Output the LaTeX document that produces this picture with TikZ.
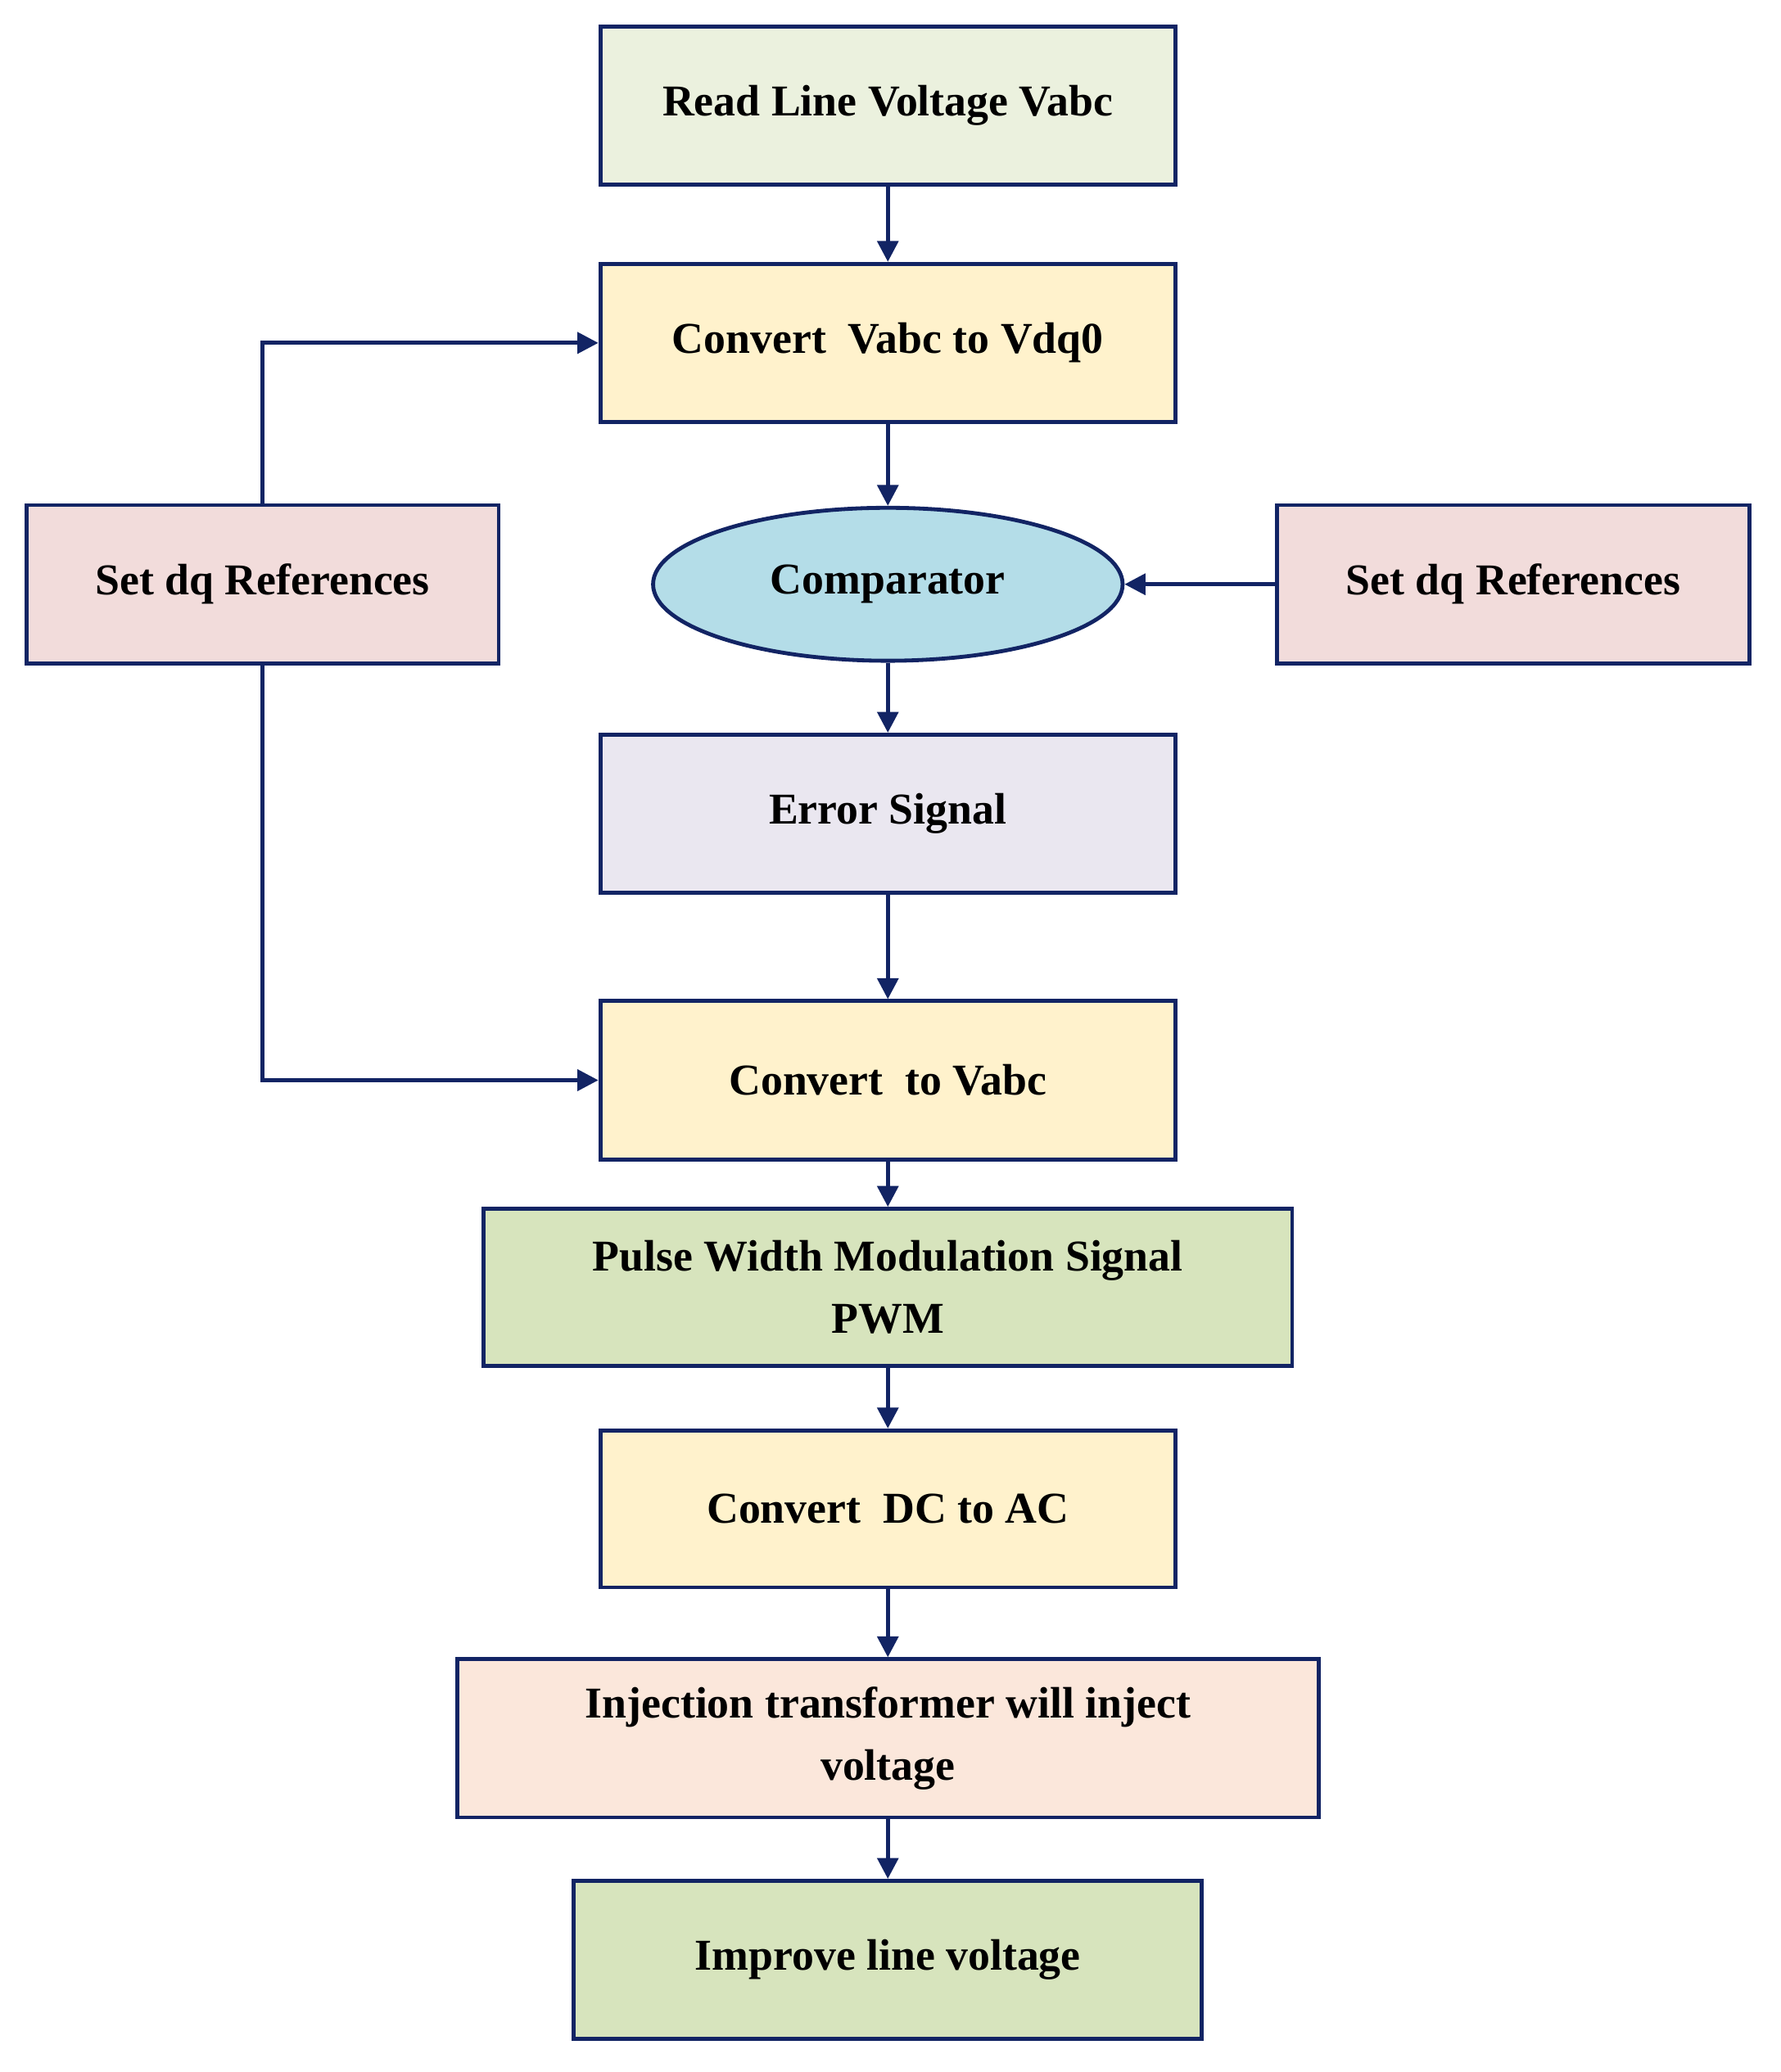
\documentclass[tikz,border=0pt]{standalone}
\usepackage{fontspec}
\setmainfont{Liberation Serif}
\usetikzlibrary{shapes.geometric,arrows.meta}
\definecolor{nav}{RGB}{18,36,100}
\definecolor{cRead}{HTML}{EBF1DE}
\definecolor{cConv}{HTML}{FFF2CC}
\definecolor{cComp}{HTML}{B4DDE8}
\definecolor{cSet}{HTML}{F2DCDB}
\definecolor{cErr}{HTML}{EAE7F0}
\definecolor{cPwm}{HTML}{D7E4BD}
\definecolor{cInj}{HTML}{FBE7DB}
\begin{document}
\begin{tikzpicture}[x=0.02cm,y=-0.02cm,
  box/.style={draw=nav,line width=1.7pt,rectangle,inner sep=0pt,align=center,
    font=\fontsize{19}{27}\selectfont\bfseries},
  arr/.style={draw=nav,line width=1.7pt,-{Triangle[length=9pt,width=9pt]}}]
\useasboundingbox (0,0) rectangle (1350,1571);
\node[box,fill=cRead,minimum width=8.72cm,minimum height=2.4cm] (read) at (673,80) {Read Line Voltage Vabc};
\node[box,fill=cConv,minimum width=8.72cm,minimum height=2.4cm] (c1) at (673,260) {Convert\ \ Vabc to Vdq0};
\node[box,fill=cComp,ellipse,minimum width=7.12cm,minimum height=2.32cm] (cmp) at (673,443) {Comparator};
\node[box,fill=cSet,minimum width=7.16cm,minimum height=2.4cm] (sl) at (199,443) {Set dq References};
\node[box,fill=cSet,minimum width=7.16cm,minimum height=2.4cm] (sr) at (1147,443) {Set dq References};
\node[box,fill=cErr,minimum width=8.72cm,minimum height=2.4cm] (err) at (673,617) {Error Signal};
\node[box,fill=cConv,minimum width=8.72cm,minimum height=2.4cm] (c2) at (673,819) {Convert\ \ to Vabc};
\node[box,fill=cPwm,minimum width=12.26cm,minimum height=2.38cm] (pwm) at (673,976) {Pulse Width Modulation Signal\\PWM};
\node[box,fill=cConv,minimum width=8.72cm,minimum height=2.38cm] (dc) at (673,1144) {Convert\ \ DC to AC};
\node[box,fill=cInj,minimum width=13.06cm,minimum height=2.4cm] (inj) at (673,1318) {Injection transformer will inject\\voltage};
\node[box,fill=cPwm,minimum width=9.52cm,minimum height=2.4cm] (imp) at (673,1486) {Improve line voltage};
\draw[arr] (read) -- (c1);
\draw[arr] (c1) -- (cmp);
\draw[arr] (cmp) -- (err);
\draw[arr] (err) -- (c2);
\draw[arr] (c2) -- (pwm);
\draw[arr] (pwm) -- (dc);
\draw[arr] (dc) -- (inj);
\draw[arr] (inj) -- (imp);
\draw[arr] (sr) -- (cmp);
\draw[arr] (sl.north) |- (c1.west);
\draw[arr] (sl.south) |- (c2.west);
\end{tikzpicture}
\end{document}
